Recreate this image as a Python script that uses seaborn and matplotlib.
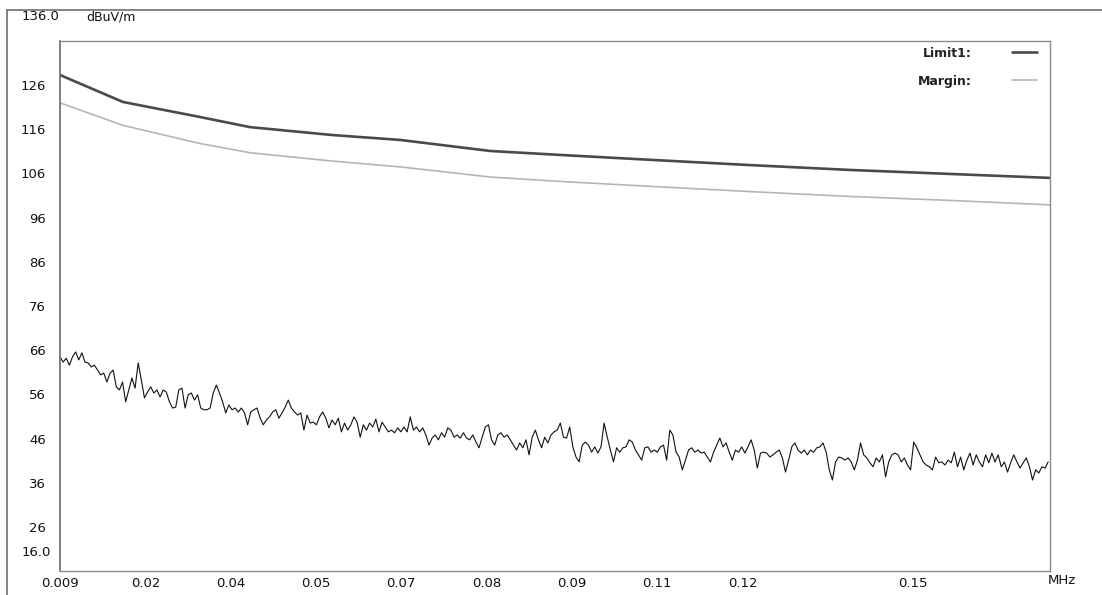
import numpy as np
import pandas as pd
import matplotlib.pyplot as plt
import seaborn as sns
from matplotlib.lines import Line2D

# limit / margin lines, read at a few frequencies (MHz, dBuV/m)
limit_freq = [0.009, 0.0194, 0.0321, 0.0404, 0.0541, 0.0652, 0.0801, 0.0917,
              0.1065, 0.1231, 0.1396, 0.1561, 0.1726]
limit_level = [128.3, 122.2, 118.8, 116.5, 114.7, 113.6, 111.1, 110.2,
               109.1, 107.9, 106.8, 105.9, 105.0]
margin_level = [122.0, 116.9, 112.8, 110.7, 108.8, 107.5, 105.2, 104.2,
                103.1, 101.9, 100.8, 99.9, 98.9]

# measured trace, one value per sweep step from 0.009 MHz to 0.1723 MHz
trace_level = [
    64.5, 63.3, 64.2, 62.6, 64.5, 65.6, 63.8, 65.4, 63.3, 63.1, 62.2, 62.6, 61.5, 60.4, 60.8, 58.8,
    60.8, 61.5, 57.7, 57.0, 58.8, 54.3, 57.0, 59.7, 57.4, 63.1, 59.3, 55.2, 56.5, 57.7, 56.3, 57.0,
    55.4, 57.0, 56.5, 54.3, 52.9, 53.1, 57.0, 57.4, 52.9, 55.9, 56.3, 54.7, 55.9, 52.9, 52.5, 52.5,
    52.9, 56.3, 58.1, 56.3, 54.3, 51.8, 53.6, 52.5, 52.9, 52.0, 52.9, 51.8, 49.1, 52.0, 52.5, 52.9,
    50.6, 49.1, 50.2, 50.9, 52.0, 52.5, 50.6, 51.8, 53.1, 54.7, 52.9, 52.0, 51.3, 51.8, 47.9,
    51.3, 49.5, 49.7, 49.1, 50.9, 52.0, 50.6, 48.4, 50.2, 49.1, 50.6, 47.5, 49.5, 47.9, 49.1, 50.9,
    49.7, 46.3, 49.1, 47.9, 49.5, 48.6, 50.4, 47.5, 49.7, 48.6, 47.5, 47.9, 47.3, 48.4, 47.5, 48.6,
    47.5, 50.9, 47.9, 48.6, 47.5, 48.4, 46.8, 44.5, 46.1, 46.8, 45.7, 47.3, 46.3, 48.4, 47.9, 46.3,
    46.8, 46.1, 47.3, 46.1, 45.7, 46.8, 45.2, 43.9, 46.3, 48.6, 49.1, 45.7, 44.5, 46.8, 47.3, 46.3,
    46.8, 45.7, 44.5, 43.4, 45.0, 43.9, 45.7, 42.3, 46.3, 47.9, 45.7, 43.9, 46.3, 45.0, 46.8, 47.5,
    47.9,
    49.5, 46.3, 46.1, 48.6, 44.1, 41.8, 40.7, 44.5, 45.2, 44.5, 42.9, 44.1, 42.7, 44.1, 49.5, 46.3,
    43.4, 40.7, 43.9, 42.9, 43.9, 44.1, 45.7, 45.2, 43.4, 42.3, 41.1, 43.9, 44.1, 42.9, 43.4, 42.9,
    44.1, 44.5, 41.1, 47.9, 46.8, 42.9, 41.8, 38.9, 41.1, 43.4, 43.9, 42.9, 43.4, 42.7, 42.9, 41.8,
    40.7, 42.9, 44.5, 46.1, 44.1, 45.0, 42.9, 41.1, 43.4, 42.9, 44.1, 42.7, 44.1, 45.7, 43.4, 39.3,
    42.7, 42.9, 42.7, 41.8, 42.3, 42.9, 43.4, 41.6, 38.4, 41.1, 44.1, 45.0, 43.4, 42.7,
    43.4, 42.3, 43.4, 42.9, 43.9, 44.1, 45.0, 42.9, 38.9, 36.6, 40.7, 41.8, 41.6, 41.1, 41.6, 40.7,
    38.9, 41.1, 45.0, 42.3, 41.6, 40.5, 39.6, 41.6, 40.7, 42.3, 37.3, 40.7, 42.3, 42.7, 42.3, 40.7,
    41.6, 40.0, 38.9, 45.2, 43.9, 42.3, 40.7, 40.0, 39.6, 38.9, 41.8, 40.5, 40.7, 40.0, 41.1, 40.5,
    42.9, 39.6, 41.8, 38.9, 41.1, 42.7, 40.0, 42.3, 40.7, 39.6, 42.3, 40.5, 42.7, 40.7, 42.3, 39.6,
    40.7, 38.4, 40.5, 42.3, 40.7, 39.3, 40.5, 41.6, 39.6, 36.6, 38.9, 38.2, 39.6, 39.3, 40.7,
]
trace_start, trace_stop = 0.009, 0.1723

xtick_vals = [0.009 + 0.0141 * k for k in range(11)]
xtick_labels = ['0.009', '0.02', '0.04', '0.05', '0.07', '0.08', '0.09', '0.11', '0.12', '', '0.15']
ytick_vals = [26, 36, 46, 56, 66, 76, 86, 96, 106, 116, 126]

limits_df = pd.DataFrame({'freq': limit_freq, 'limit': limit_level, 'margin': margin_level})
trace_df = pd.DataFrame({'freq': np.linspace(trace_start, trace_stop, len(trace_level)),
                         'level': trace_level})

sns.set_style('white')
plt.rcParams['font.family'] = ['DejaVu Sans']

fig = plt.figure(figsize=(11.02, 5.95), dpi=100)
ax = fig.add_axes([60 / 1102, 1 - 571 / 595, 990 / 1102, 530 / 595])

sns.lineplot(data=limits_df, x='freq', y='limit', ax=ax, color='#4a4a4a', linewidth=1.9, label='Limit1:')
sns.lineplot(data=limits_df, x='freq', y='margin', ax=ax, color='#b5b5b5', linewidth=1.2, label='Margin:')
sns.lineplot(data=trace_df, x='freq', y='level', ax=ax, color='#111111', linewidth=0.8)

ax.set_xlim(0.009, 0.1726)
ax.set_ylim(16, 136)
ax.set_xticks(xtick_vals)
ax.set_xticklabels(xtick_labels)
ax.set_yticks(ytick_vals)
ax.set_yticklabels([str(v) for v in ytick_vals])
ax.tick_params(axis='both', length=0, labelsize=9.5, colors='#111111')
ax.tick_params(axis='y', pad=10)
ax.tick_params(axis='x', pad=4)
ax.set_xlabel('')
ax.set_ylabel('')

for side in ['top', 'right', 'bottom']:
    ax.spines[side].set_color('#8a8a8a')
    ax.spines[side].set_linewidth(1.0)
ax.spines['left'].set_color('#6a6a6a')
ax.spines['left'].set_linewidth(1.2)

leg = ax.legend(loc='upper right', bbox_to_anchor=(0.987, 0.989), frameon=False, markerfirst=False,
                handlelength=2.0, handletextpad=3.2, labelspacing=1.2, borderpad=0, borderaxespad=0,
                prop={'size': 9, 'weight': 'bold'})
for t in leg.get_texts():
    t.set_color('#222222')

# axis header texts as the analyser prints them
fig.text(22 / 1102, 1 - 17 / 595, '136.0', fontsize=9.5, color='#111111', va='center', ha='left')
fig.text(86 / 1102, 1 - 17 / 595, 'dBuV/m', fontsize=9, color='#111111', va='center', ha='left')
fig.text(22 / 1102, 1 - 552 / 595, '16.0', fontsize=9.5, color='#111111', va='center', ha='left')
fig.text(1062 / 1102, 1 - 580 / 595, 'MHz', fontsize=9.5, color='#111111', va='center', ha='center')

# outer frame
fig.add_artist(Line2D([7 / 1102, 7 / 1102], [0, 1 - 10 / 595], transform=fig.transFigure,
                      color='#707070', linewidth=1.2))
fig.add_artist(Line2D([7 / 1102, 1], [1 - 10 / 595, 1 - 10 / 595], transform=fig.transFigure,
                      color='#707070', linewidth=1.2))

fig.savefig('out.png', dpi=100)
